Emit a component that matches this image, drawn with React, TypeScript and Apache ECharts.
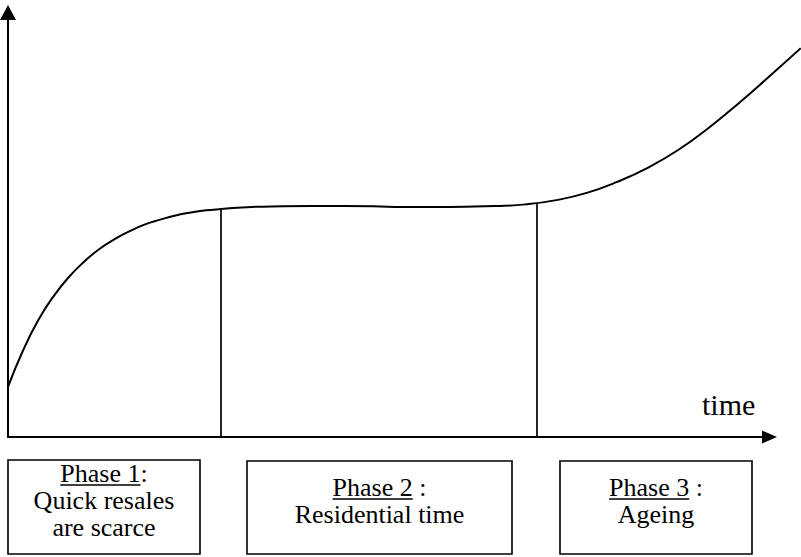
import React, { useEffect, useRef } from "react";
import * as echarts from "echarts";

// ---- data ----
const timeValues = [0, 2, 4, 6, 8, 10, 12, 14, 16, 18, 20, 22, 24, 26, 28, 32, 36, 40, 44, 48, 52, 56, 60, 64, 68, 72, 76, 80, 84, 88, 92, 96, 100, 104.1];
const curveValues = [11.8, 20.5, 27.6, 33.2, 37.7, 41.3, 44.3, 46.6, 48.5, 50.1, 51.2, 52.2, 52.9, 53.4, 53.7, 54.2, 54.35, 54.4, 54.4, 54.35, 54.2, 54.2, 54.25, 54.4, 54.8, 55.8, 57.5, 60.1, 63.4, 67.6, 72.8, 78.7, 85.0, 91.6];
const phaseBoundaries = [28, 69.5];
const phaseBoundaryHeights = [53.7, 55.1];
const axisTitle = "time";
const phaseTitles = ["Phase 1", "Phase 2", "Phase 3"];
const phaseTitleSuffixes = [":", " :", " :"];
const phaseDescriptions = [["Quick resales", "are scarce"], ["Residential time"], ["Ageing"]];

// ---- layout ----
const W = 801;
const H = 557;
const FONT_FAMILY = "Liberation Serif";
const BOX_FONT_SIZE = 26;
const TITLE_FONT_SIZE = 30;
const LINE_GAP = 27;
const GRID_LEFT = 8;
const GRID_RIGHT = 31.5;
const GRID_TOP = 12.5;
const GRID_BOTTOM = 120;
const X_MAX = 100;
const X_MAX_WIDE = (X_MAX * (W - GRID_LEFT)) / (W - GRID_LEFT - GRID_RIGHT);
const boxLayout = [
  { x: 8, y: 460, w: 192, h: 94, firstBaseline: 482 },
  { x: 247, y: 461, w: 265, h: 93, firstBaseline: 496 },
  { x: 560, y: 461, w: 192, h: 93, firstBaseline: 496 },
];

function measure(text: string, size: number): number {
  const c = document.createElement("canvas").getContext("2d");
  if (!c) return text.length * size * 0.45;
  c.font = `${size}px "${FONT_FAMILY}"`;
  return c.measureText(text).width;
}

export default function App() {
  const ref = useRef<HTMLDivElement>(null);
  useEffect(() => {
    if (!ref.current) return;
    const chart = echarts.init(ref.current, undefined, { renderer: "svg" });
    const mid = (fs: number) => 0.3375 * fs;
    const txt = (text: string, size: number, align: string) => ({
      text,
      fontFamily: FONT_FAMILY,
      fontSize: size,
      fill: "#000",
      textAlign: align,
      textVerticalAlign: "middle",
      align,
      verticalAlign: "middle",
    });

    const graphics: any[] = [];
    boxLayout.forEach((b, i) => {
      graphics.push({
        type: "rect",
        shape: { x: b.x, y: b.y, width: b.w, height: b.h },
        style: { fill: "none", stroke: "#000", lineWidth: 1.6 },
      });
      const cx = b.x + b.w / 2;
      const head = phaseTitles[i] + phaseTitleSuffixes[i];
      const headW = measure(head, BOX_FONT_SIZE);
      const titleW = measure(phaseTitles[i], BOX_FONT_SIZE);
      const x0 = cx - headW / 2;
      graphics.push({
        type: "text",
        x: x0,
        y: b.firstBaseline - mid(BOX_FONT_SIZE),
        style: txt(head, BOX_FONT_SIZE, "left"),
      });
      graphics.push({
        type: "line",
        shape: { x1: x0, y1: b.firstBaseline + 3, x2: x0 + titleW, y2: b.firstBaseline + 3 },
        style: { stroke: "#000", lineWidth: 1.6 },
      });
      phaseDescriptions[i].forEach((line, j) => {
        graphics.push({
          type: "text",
          x: cx,
          y: b.firstBaseline + (j + 1) * LINE_GAP - mid(BOX_FONT_SIZE),
          style: txt(line, BOX_FONT_SIZE, "center"),
        });
      });
    });
    graphics.push({
      type: "text",
      x: 702,
      y: 415 - mid(TITLE_FONT_SIZE),
      style: txt(axisTitle, TITLE_FONT_SIZE, "left"),
    });

    const hidden = {
      axisTick: { show: false },
      axisLabel: { show: false },
      splitLine: { show: false },
    };

    chart.setOption({
      animation: false,
      backgroundColor: "#fff",
      grid: [
        { left: GRID_LEFT, right: GRID_RIGHT, top: GRID_TOP, bottom: GRID_BOTTOM },
        { left: GRID_LEFT, right: 0, top: GRID_TOP, bottom: GRID_BOTTOM },
      ],
      xAxis: [
        {
          type: "value",
          gridIndex: 0,
          min: 0,
          max: X_MAX,
          ...hidden,
          axisLine: { show: true, symbol: ["none", "triangle"], symbolSize: [13, 15], lineStyle: { color: "#000", width: 2 } },
        },
        { type: "value", gridIndex: 1, min: 0, max: X_MAX_WIDE, show: false },
      ],
      yAxis: [
        {
          type: "value",
          gridIndex: 0,
          min: 0,
          max: 100,
          ...hidden,
          axisLine: { show: true, symbol: ["none", "triangle"], symbolSize: [16, 15], lineStyle: { color: "#000", width: 2 } },
        },
        { type: "value", gridIndex: 1, min: 0, max: 100, show: false },
      ],
      series: [
        {
          type: "line",
          xAxisIndex: 1,
          yAxisIndex: 1,
          data: timeValues.map((t, i) => [t, curveValues[i]]),
          smooth: 0.5,
          showSymbol: false,
          silent: true,
          lineStyle: { color: "#000", width: 2 },
          markLine: {
            silent: true,
            symbol: ["none", "none"],
            label: { show: false },
            lineStyle: { color: "#000", width: 1.7, type: "solid" },
            data: phaseBoundaries.map((t, i) => [
              { coord: [t, 0] },
              { coord: [t, phaseBoundaryHeights[i]] },
            ]),
          },
        },
      ],
      graphic: graphics,
    });
    return () => chart.dispose();
  }, []);
  return <div ref={ref} style={{ position: "fixed", left: 0, top: 0, width: W, height: H }} />;
}
